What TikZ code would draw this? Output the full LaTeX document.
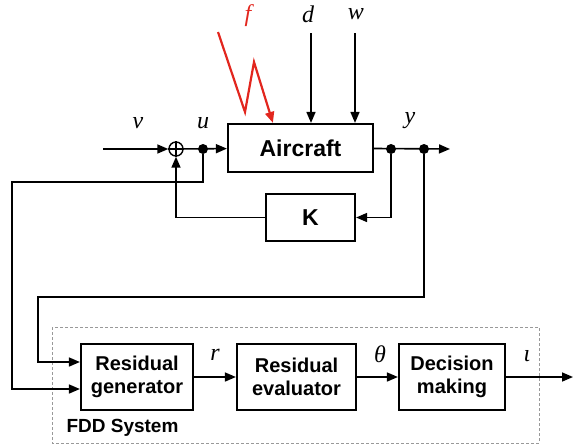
\documentclass[tikz,border=0pt]{standalone}
\usepackage{fontspec}
\setmainfont{Liberation Serif}
\setsansfont{Liberation Sans}
\usepackage{tikz}
\usetikzlibrary{arrows.meta}
\usetikzlibrary{calc}
\usepackage{xcolor}
\definecolor{faultred}{RGB}{226,38,30}

\tikzset{
  blk/.style={draw, line width=2.2pt, align=center, inner sep=0pt,
    font=\sffamily\bfseries\fontsize{20}{23}\selectfont},
  bigblk/.style={blk, font=\sffamily\bfseries\fontsize{23}{26}\selectfont},
  sig/.style={line width=1.6pt, -{Triangle[length=11pt,width=9pt]}},
  lbl/.style={inner sep=0pt, font=\itshape\fontsize{24}{28}\selectfont},
  tap/.style={circle, fill, inner sep=0pt, minimum size=10pt},
}

\begin{document}
\begin{tikzpicture}[x=1pt,y=-1pt]
			\useasboundingbox (0,0) rectangle (573,445);
			
			% loop blocks
			\node[bigblk, minimum width=145pt, minimum height=48pt] (aircraft) at (300.5,148) {Aircraft};
			\node[bigblk, minimum width=89pt, minimum height=47pt] (ctrl) at (310.5,217.5) {K};
			\node[circle, draw, line width=1.4pt, minimum size=14pt, inner sep=0pt] (sum) at (176,149) {};
			\draw[line width=1.2pt] (sum.north) -- (sum.south) (sum.west) -- (sum.east);
			\node[tap] (udot) at (203,149) {};
			\node[tap] (ydot) at (391,149) {};
			\node[tap] (ydot2) at (424,149) {};
			
			% FDD system
			\draw[gray!80, dashed, dash pattern=on 3pt off 2pt, line width=0.9pt] (52,327) rectangle (539,443);
			\node[blk, minimum width=112pt, minimum height=66pt] (resgen) at (137,377) {Residual\\generator};
			\node[blk, minimum width=119pt, minimum height=66pt] (reseval) at (296.5,377) {Residual\\evaluator};
			\node[blk, minimum width=106pt, minimum height=66pt] (decide) at (452,377) {Decision\\making};
			\node[anchor=west, font=\sffamily\bfseries\fontsize{19}{22}\selectfont] (fddlbl) at (63,428) {FDD System};
			
			% free ends
			\coordinate (vin) at (103,149);
			\coordinate (yout) at (450,149);
			\coordinate (din) at (311,33);
			\coordinate (win) at (355,33);
			\coordinate (fin) at (218,32);
			\coordinate (iout) at (573,377);
			
			% forward path
			\draw[sig] (vin) -- (sum);
			\draw[sig] (sum) -- (aircraft);
			\draw[sig] (aircraft) -- (yout);
			\draw[sig] (din) -- (din |- aircraft.north);
			\draw[sig] (win) -- (win |- aircraft.north);
			\draw[faultred, line width=2.2pt, line join=miter, -{Triangle[length=11pt,width=9pt]}]
				(fin) -- (245,112) -- (254,62) -- ($(aircraft.north west)+(46,0)$);
			
			% feedback through K
			\draw[sig] (ydot) |- (ctrl);
			\draw[sig] (ctrl) -| (sum);
			
			% to residual generator
			\draw[sig] (udot) |- (12,182) |- ($(resgen.west)+(0,12)$);
			\draw[sig] (ydot2) |- (38,297) |- ($(resgen.west)+(0,-15)$);
			\draw[sig] (resgen) -- (reseval);
			\draw[sig] (reseval) -- (decide);
			\draw[sig] (decide) -- (iout);
			
			% signal labels
			\node[lbl] (vlbl) at (138,123) {v};
			\node[lbl] (ulbl) at (203,123) {u};
			\node[lbl] (ylbl) at (410,121) {y};
			\node[lbl] (dlbl) at (308,14) {d};
			\node[lbl] (wlbl) at (356,14) {w};
			\node[lbl, text=faultred] (flbl) at (248,16) {f};
			\node[lbl] (rlbl) at (215,355) {r};
			\node[lbl] (thlbl) at (380,354) {θ};
			\node[lbl] (iolbl) at (527,356) {ι};
			
		\end{tikzpicture}
\end{document}
